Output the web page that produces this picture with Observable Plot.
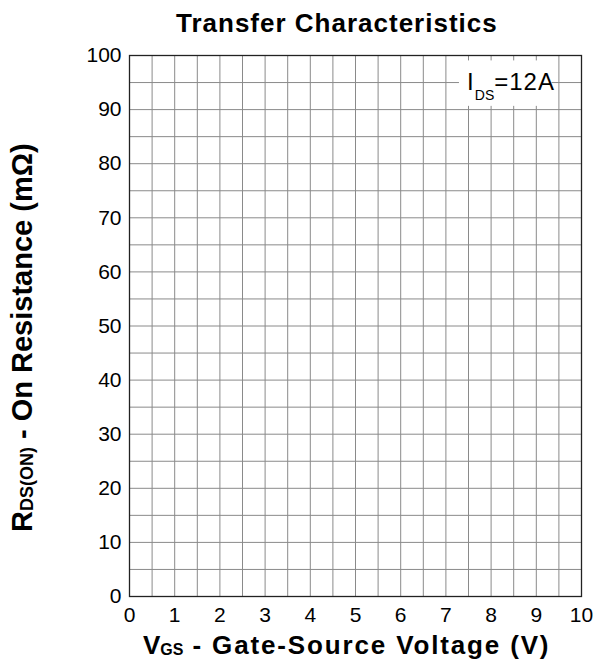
<!DOCTYPE html>
<html>
<head>
<meta charset="utf-8">
<script src="https://cdn.jsdelivr.net/npm/d3@7"></script>
<script src="https://cdn.jsdelivr.net/npm/@observablehq/plot@0.6"></script>
<style>
  html, body { margin: 0; padding: 0; background: white; }
  #chart svg { display: block; }
</style>
</head>
<body>
<div id="chart"></div>
<script>
// ---- data ----
const xTicks = [0, 1, 2, 3, 4, 5, 6, 7, 8, 9, 10];
const yTicks = [0, 10, 20, 30, 40, 50, 60, 70, 80, 90, 100];
const xGrid = [0.5, 1, 1.5, 2, 2.5, 3, 3.5, 4, 4.5, 5, 5.5, 6, 6.5, 7, 7.5, 8, 8.5, 9, 9.5];
const yGrid = [5, 10, 15, 20, 25, 30, 35, 40, 45, 50, 55, 60, 65, 70, 75, 80, 85, 90, 95];
const titleText = "Transfer Characteristics";
const annotationBox = [{x1: 7.3, x2: 9.35, y1: 90.6, y2: 99.0}];
const annotationAt = {x: 7.48, y: 93.5};

const font = "'Liberation Sans', Arial, Helvetica, sans-serif";

const plot = Plot.plot({
  width: 596,
  height: 663,
  marginLeft: 129,
  marginRight: 15,
  marginTop: 55,
  marginBottom: 67,
  style: {fontFamily: font, fontSize: "21px", background: "white", color: "black"},
  x: {domain: [0, 10]},
  y: {domain: [0, 100]},
  marks: [
    Plot.ruleX(xGrid, {stroke: "#8a8a8a", strokeWidth: 1}),
    Plot.ruleY(yGrid, {stroke: "#8a8a8a", strokeWidth: 1}),
    Plot.rect(annotationBox, {x1: "x1", x2: "x2", y1: "y1", y2: "y2", fill: "white"}),
    Plot.frame({stroke: "#222", strokeWidth: 1.3}),
    Plot.axisX(xTicks, {tickSize: 0, tickPadding: 11, fontSize: 21, label: null}),
    Plot.axisY(yTicks, {tickSize: 0, tickPadding: 8, fontSize: 21, label: null})
  ]
});

document.getElementById("chart").appendChild(plot);

const svg = d3.select(plot);
const sx = plot.scale("x"), sy = plot.scale("y");

// title
svg.append("text")
  .attr("x", 176).attr("y", 32)
  .attr("text-anchor", "start")
  .attr("font-family", font).attr("font-weight", "bold").attr("font-size", 26)
  .attr("letter-spacing", 1)
  .attr("fill", "black")
  .text(titleText);

// annotation I_DS=12A
const ann = svg.append("text")
  .attr("x", sx.apply(annotationAt.x)).attr("y", sy.apply(annotationAt.y))
  .attr("text-anchor", "start")
  .attr("font-family", font).attr("font-size", 24).attr("fill", "black");
ann.append("tspan").text("I");
ann.append("tspan").attr("font-size", 14).attr("dy", 10).attr("dx", 1).text("DS");
ann.append("tspan").attr("dy", -10).attr("letter-spacing", 1).text("=12A");

// x-axis label
const xl = svg.append("text")
  .attr("x", 143).attr("y", 654)
  .attr("text-anchor", "start")
  .attr("font-family", font).attr("font-weight", "bold").attr("font-size", 26)
  .attr("fill", "black");
xl.append("tspan").text("V");
xl.append("tspan").attr("font-size", 16).attr("dy", 1).text("GS");
xl.append("tspan").attr("dy", -1).attr("letter-spacing", 1.85).text(" - Gate-Source Voltage (V)");

// y-axis label
const yl = svg.append("text")
  .attr("transform", "translate(32,532) rotate(-90)")
  .attr("text-anchor", "start")
  .attr("font-family", font).attr("font-weight", "bold").attr("font-size", 29)
  .attr("fill", "black");
yl.append("tspan").text("R");
yl.append("tspan").attr("font-size", 18).attr("dy", 1).text("DS(ON)");
yl.append("tspan").attr("dy", -1).text(" - On Resistance (m\u03A9)");
</script>
</body>
</html>
